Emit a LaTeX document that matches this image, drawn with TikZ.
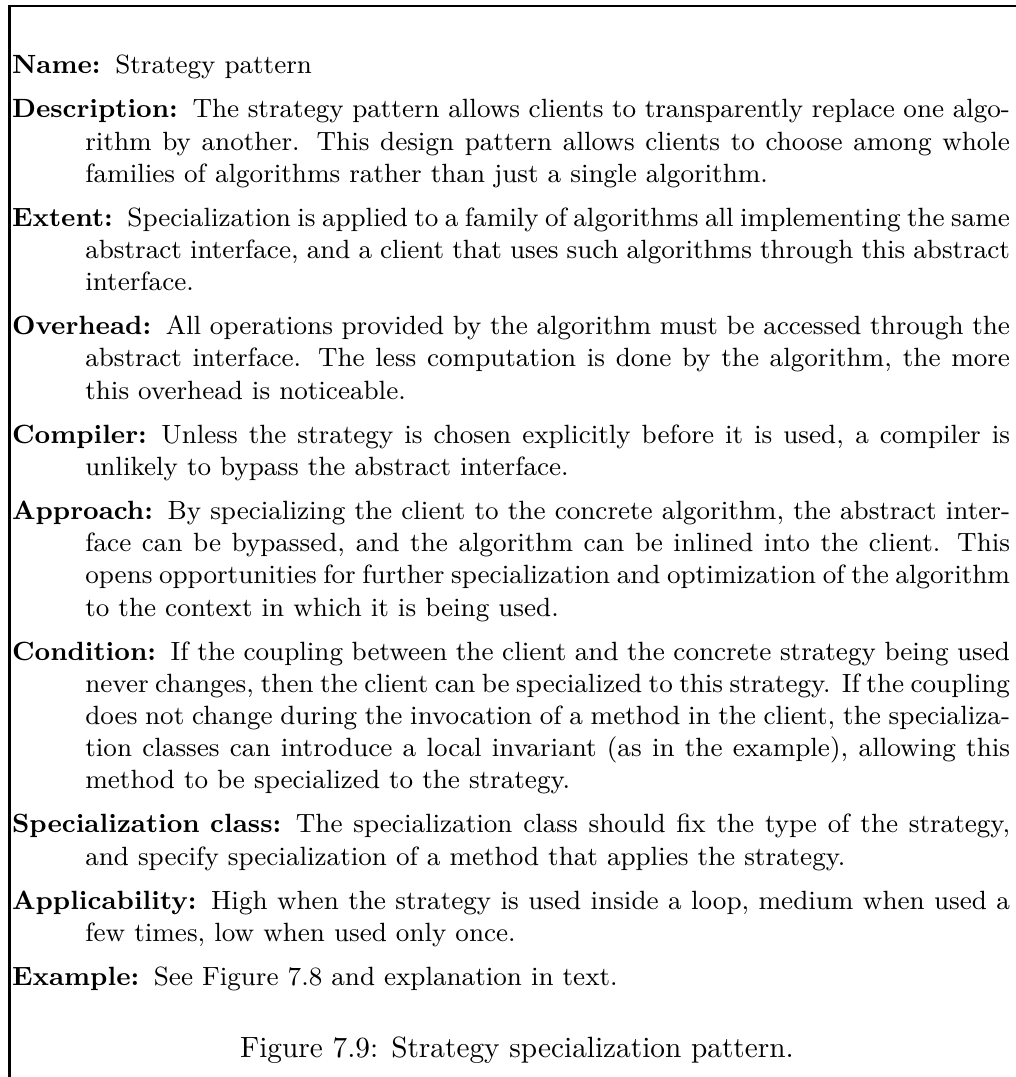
\documentclass[tikz,border=0pt]{standalone}
\usetikzlibrary{calc}
% description-style list with hanging indent (small type)
\newcommand\patternlabel[1]{\hspace\labelsep\normalfont\bfseries #1}
\newenvironment{patternlist}{%
  \begin{list}{}{%
    \setlength\leftmargin{25pt}%
    \setlength\labelwidth{0pt}%
    \setlength\labelsep{5pt}%
    \setlength\itemindent{-25pt}%
    \setlength\itemsep{2pt}%
    \setlength\parsep{2pt}%
    \setlength\topsep{0pt}%
    \setlength\partopsep{0pt}%
    \let\makelabel\patternlabel}}%
  {\end{list}}
\begin{document}
\begin{tikzpicture}[x=0.34118pt,y=-0.34118pt]
  \tikzset{
    frameline/.style={line width=0.85pt},
    patternbody/.style={anchor=north west, inner sep=0pt, text width=340.5pt, align=justify},
    captiontext/.style={anchor=base, inner sep=0pt, font=\normalsize}
  }
  \useasboundingbox (0,0) rectangle (1016,1077);
  % open frame: left and top rules
  \coordinate (fbot) at (9.3,1077);
  \coordinate (fcorner) at (9.3,6);
  \coordinate (fright) at (1016,6);
  \draw[frameline] (fbot) -- (fcorner) -- (fright);
  % pattern description
  \node[patternbody] (body) at (11.5,41) {\small
    \begin{patternlist}
      \item[Name:] Strategy pattern
      \item[Description:] The strategy pattern allows clients to transparently replace one algo-\linebreak rithm by another. This design pattern allows clients to choose among whole\linebreak families of algorithms rather than just a single algorithm.
      \item[Extent:] Specialization is applied to a family of algorithms all implementing the same\linebreak abstract interface, and a client that uses such algorithms through this abstract\linebreak interface.
      \item[Overhead:] All operations provided by the algorithm must be accessed through the\linebreak abstract interface. The less computation is done by the algorithm, the more\linebreak this overhead is noticeable.
      \item[Compiler:] Unless the strategy is chosen explicitly before it is used, a compiler is\linebreak unlikely to bypass the abstract interface.
      \item[Approach:] By specializing the client to the concrete algorithm, the abstract inter-\linebreak face can be bypassed, and the algorithm can be inlined into the client. This\linebreak opens opportunities for further specialization and optimization of the algorithm\linebreak to the context in which it is being used.
      \item[Condition:] If the coupling between the client and the concrete strategy being used\linebreak never changes, then the client can be specialized to this strategy. If the coupling\linebreak does not change during the invocation of a method in the client, the specializa-\linebreak tion classes can introduce a local invariant (as in the example), allowing this\linebreak method to be specialized to the strategy.
      \item[Specialization class:] The specialization class should fix the type of the strategy,\linebreak and specify specialization of a method that applies the strategy.
      \item[Applicability:] High when the strategy is used inside a loop, medium when used a\linebreak few times, low when used only once.
      \item[Example:] See Figure 7.8 and explanation in text.
    \end{patternlist}};
  % caption below the framed list
  \coordinate (capx) at (517,0);
  \node[captiontext] (cap) at ($(body.south -| capx)+(0,66)$) {Figure 7.9: Strategy specialization pattern.};
\end{tikzpicture}
\end{document}
